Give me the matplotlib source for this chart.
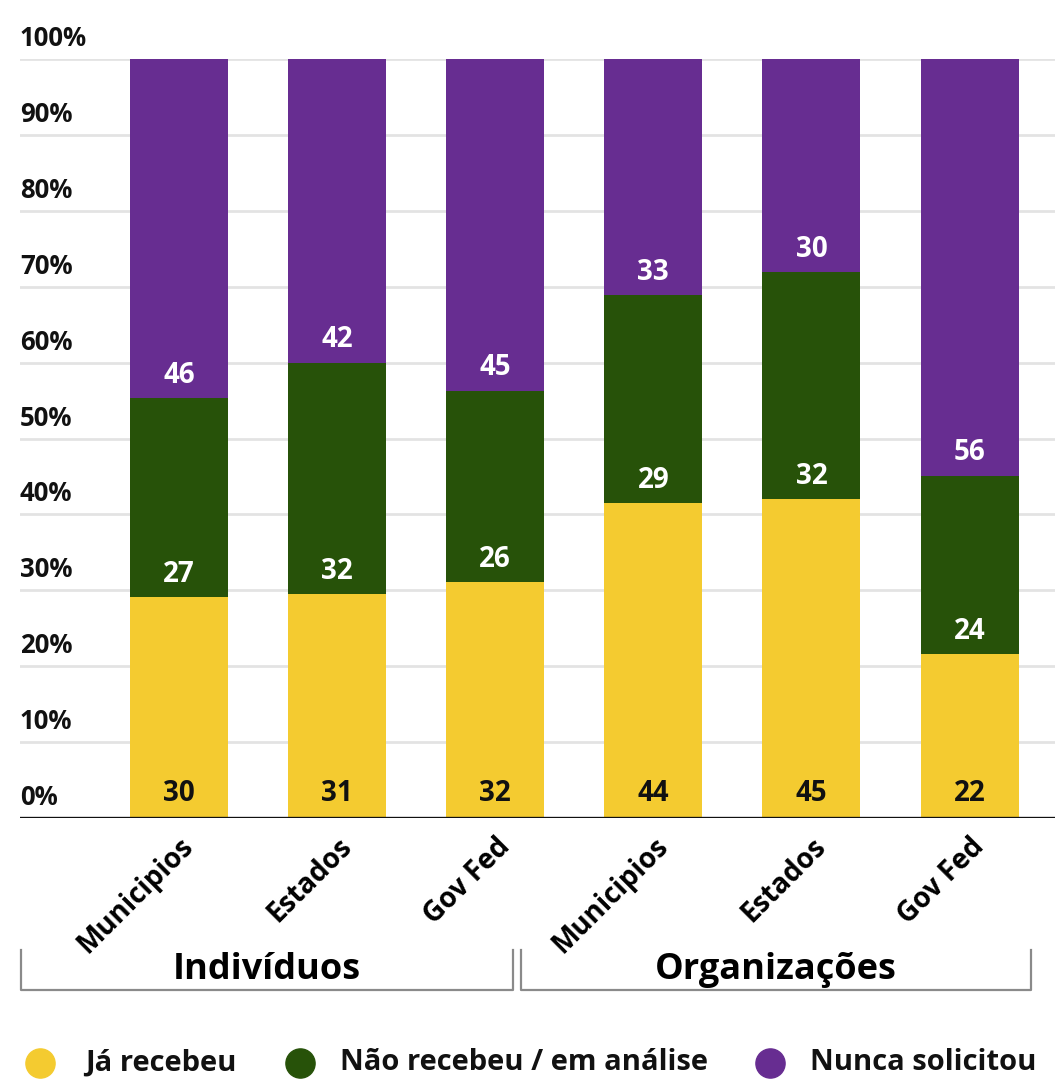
import matplotlib

matplotlib.use("Agg")
import matplotlib.pyplot as plt
from matplotlib.lines import Line2D

YELLOW = "#f4cb30"
GREEN = "#275209"
PURPLE = "#672d91"
GRID = "#e3e3e3"
BRACKET = "#8a8a8a"
FONT = "Open Sans"

categories = ["Municipios", "Estados", "Gov Fed", "Municipios", "Estados", "Gov Fed"]
groups = ["Indivíduos", "Organizações"]
series = ["Já recebeu", "Não recebeu / em análise", "Nunca solicitou"]
ja_recebeu = [30, 31, 32, 44, 45, 22]
nao_recebeu = [27, 32, 26, 29, 32, 24]
nunca = [46, 42, 45, 33, 30, 56]
yticks = [0, 10, 20, 30, 40, 50, 60, 70, 80, 90, 100]

plt.rcParams["font.family"] = [FONT, "DejaVu Sans"]
plt.rcParams["font.weight"] = "bold"

fig = plt.figure(figsize=(10.55, 10.85), dpi=100)
ax = fig.add_axes([20 / 1055, 1 - 818 / 1085, 1 - 20 / 1055, (818 - 59) / 1085])

x = list(range(len(categories)))
totals = [a + b + c for a, b, c in zip(ja_recebeu, nao_recebeu, nunca)]
p1 = [100 * a / t for a, t in zip(ja_recebeu, totals)]
p2 = [100 * b / t for b, t in zip(nao_recebeu, totals)]
p3 = [100 * c / t for c, t in zip(nunca, totals)]
b2 = p1
b3 = [a + b for a, b in zip(p1, p2)]

w = 0.62
ax.bar(x, p1, w, color=YELLOW, zorder=2)
ax.bar(x, p2, w, bottom=b2, color=GREEN, zorder=2)
ax.bar(x, p3, w, bottom=b3, color=PURPLE, zorder=2)

lbl = dict(ha="center", va="center", fontsize=20, zorder=3)
for i in x:
    ax.text(i, 3.2, str(ja_recebeu[i]), color="#111111", **lbl)
    ax.text(i, b2[i] + 3.0, str(nao_recebeu[i]), color="white", **lbl)
    ax.text(i, b3[i] + 3.0, str(nunca[i]), color="white", **lbl)

ax.set_xlim(-1.005, 5.54)
ax.set_ylim(0, 100)
for v in yticks:
    if v:
        ax.axhline(v, color=GRID, lw=2, zorder=1)
    ax.text(-1.005, v + 1.7, f"{v}%", ha="left", va="baseline", fontsize=18.5, color="#111111")
ax.axhline(0, color="#111111", lw=2.4, zorder=4)

for s in ax.spines.values():
    s.set_visible(False)
ax.set_yticks([])
ax.set_xticks(x)
ax.set_xticklabels(categories, rotation=45, ha="right", rotation_mode="anchor", fontsize=20)
ax.tick_params(axis="x", length=0, pad=10)

# group brackets
tr = ax.get_xaxis_transform()
for x0, x1, label in [(-1.0, 2.11, groups[0]), (2.16, 5.39, groups[1])]:
    ax.add_line(Line2D([x0, x0, x1, x1], [-0.174, -0.227, -0.227, -0.174], transform=tr,
                       color=BRACKET, lw=1.6, clip_on=False, solid_joinstyle="round"))
    ax.text((x0 + x1) / 2, -0.20, label, transform=tr, ha="center", va="center", fontsize=26)

# legend
items = [(40, YELLOW, 85), (300, GREEN, 340), (770, PURPLE, 810)]
for (cx, col, tx), name in zip(items, series):
    fig.add_artist(Line2D([cx / 1055], [1 - 1063 / 1085], transform=fig.transFigure, marker="o",
                          markersize=21, color=col, linestyle="none"))
    fig.text(tx / 1055, 1 - 1063 / 1085, name, ha="left", va="center", fontsize=21, color="#111111")

fig.savefig("out.png", dpi=100)
